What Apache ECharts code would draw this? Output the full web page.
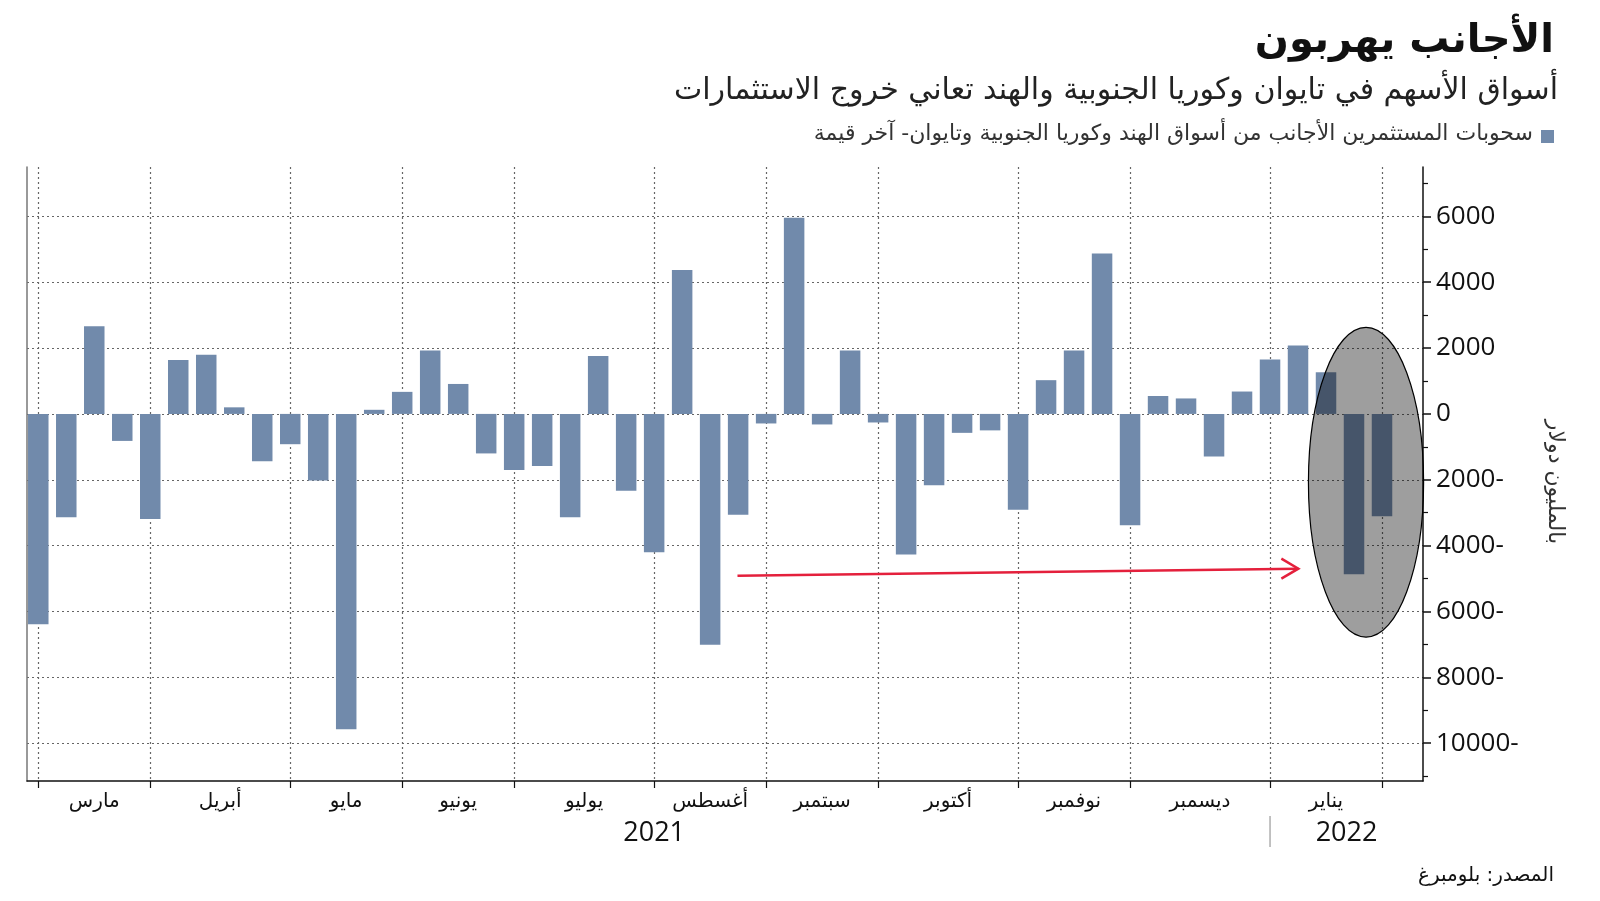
<!DOCTYPE html>
<html><head><meta charset="utf-8">
<script src="https://cdn.jsdelivr.net/npm/echarts@6/dist/echarts.min.js"></script>
<style>html,body{margin:0;padding:0;background:#fff}#c{width:1600px;height:901px}</style>
</head><body><div id="c"></div>
<script>
// ---- data ----
const weeks = [
  '2021-03-05','2021-03-12','2021-03-19','2021-03-26',
  '2021-04-02','2021-04-09','2021-04-16','2021-04-23','2021-04-30',
  '2021-05-07','2021-05-14','2021-05-21','2021-05-28',
  '2021-06-04','2021-06-11','2021-06-18','2021-06-25',
  '2021-07-02','2021-07-09','2021-07-16','2021-07-23','2021-07-30',
  '2021-08-06','2021-08-13','2021-08-20','2021-08-27',
  '2021-09-03','2021-09-10','2021-09-17','2021-09-24',
  '2021-10-01','2021-10-08','2021-10-15','2021-10-22','2021-10-29',
  '2021-11-05','2021-11-12','2021-11-19','2021-11-26',
  '2021-12-03','2021-12-10','2021-12-17','2021-12-24','2021-12-31',
  '2022-01-07','2022-01-14','2022-01-21','2022-01-28',
  '2022-02-04'
];
const outflows = [
  -6390, -3140, 2660, -820,
  -3190, 1640, 1800, 200, -1440,
  -920, -2020, -9580, 125,
  670, 1925, 910, -1200,
  -1700, -1580, -3140, 1760, -2330,
  -4200, 4370, -7010, -3060,
  -290, 5960, -320, 1925,
  -260, -4270, -2165, -575, -500,
  -2910, 1025, 1925, 4875,
  -3380, 545, 470, -1295, 680,
  1650, 2075, 1265, -4870,
  -3110
];
const monthTicks = ['2021-03-05','2021-04-02','2021-05-07','2021-06-04','2021-07-02','2021-08-06','2021-09-03','2021-10-01','2021-11-05','2021-12-03','2022-01-07','2022-02-04'];
const monthNames = ['مارس','أبريل','مايو','يونيو','يوليو','أغسطس','سبتمبر','أكتوبر','نوفمبر','ديسمبر','يناير'];
const yearLabels = ['2021','2022'];
const yearStart = '2022-01-07';
const yTicks = [-10000,-8000,-6000,-4000,-2000,0,2000,4000,6000];
const yMinorTicks = [-11000,-9000,-7000,-5000,-3000,-1000,1000,3000,5000,7000];
const xRange = ['2021-03-02 04:20','2022-02-14 06:00'];
const yRange = [-11150, 7500];
// annotation (data space)
const ellipseCenter = ['2022-01-31', -2075];
const ellipseHalfDays = 14.4, ellipseHalfValue = 4705;
const arrowFrom = ['2021-08-26 20:00', -4915];
const arrowTo = ['2022-01-14 02:00', -4700];

const texts = {
  title: 'الأجانب يهربون',
  subtitle: 'أسواق الأسهم في تايوان وكوريا الجنوبية والهند تعاني خروج الاستثمارات',
  legend: 'سحوبات المستثمرين الأجانب من أسواق الهند وكوريا الجنوبية وتايوان- آخر قيمة',
  yName: 'بالمليون دولار',
  source: 'المصدر: بلومبرغ'
};

// ---- helpers ----
const ts = s => { const p = s.split(' '); return Date.parse(p[0] + 'T' + (p[1] || '00:00') + ':00Z'); };
const DAY = 86400000;
const tickTs = monthTicks.map(ts);
const labelTs = monthNames.map((n, i) => (tickTs[i] + tickTs[i + 1]) / 2);
const labelMap = {};
labelTs.forEach((t, i) => { labelMap[t] = monthNames[i]; });

const AR = '"DejaVu Sans", sans-serif';
const NUM = '"Open Sans", sans-serif';
const BAR = '#718aab';
const gridDash = { color: '#666', width: 1.2, type: [2, 3] };

const chart = echarts.init(document.getElementById('c'), null, { renderer: 'canvas' });
chart.setOption({
  animation: false,
  backgroundColor: '#fff',
  grid: { left: 27, right: 177, top: 167, bottom: 120, containLabel: false },
  xAxis: {
    type: 'value',
    min: ts(xRange[0]), max: ts(xRange[1]),
    axisLine: { show: true, onZero: false, lineStyle: { color: '#111', width: 1.5 } },
    axisTick: { show: true, customValues: tickTs, length: 7, lineStyle: { color: '#111', width: 1.2 } },
    axisLabel: {
      show: true, customValues: labelTs, margin: 11,
      formatter: v => labelMap[v] || '',
      fontFamily: AR, fontSize: 20, color: '#111'
    },
    splitLine: { show: true, lineStyle: gridDash }
  },
  yAxis: [
    {
      type: 'value', position: 'right', min: yRange[0], max: yRange[1],
      axisLine: { show: true, onZero: false, lineStyle: { color: '#111', width: 1.5 } },
      axisTick: { show: true, customValues: yTicks, length: 8, lineStyle: { color: '#111', width: 1.5 } },
      axisLabel: {
        customValues: yTicks, margin: 13,
        formatter: v => v < 0 ? (-v) + '-' : String(v),
        fontFamily: NUM, fontSize: 26, color: '#111'
      },
      splitLine: { show: true, lineStyle: gridDash }
    },
    {
      type: 'value', position: 'right', min: yRange[0], max: yRange[1],
      axisLine: { show: false, onZero: false },
      axisTick: { show: true, customValues: yMinorTicks, length: 5, lineStyle: { color: '#111', width: 1.2 } },
      axisLabel: { show: false },
      splitLine: { show: false }
    },
    {
      type: 'value', position: 'left', min: yRange[0], max: yRange[1],
      axisLine: { show: true, onZero: false, lineStyle: { color: '#777', width: 1.5 } },
      axisTick: { show: false }, axisLabel: { show: false }, splitLine: { show: false }
    }
  ],
  series: [{
    type: 'bar',
    yAxisIndex: 0,
    barWidth: 20.5,
    itemStyle: { color: BAR },
    data: weeks.map((d, i) => [ts(d), outflows[i]])
  }]
});

// annotations & texts
const px = (d, v) => chart.convertToPixel({ xAxisIndex: 0, yAxisIndex: 0 }, [typeof d === 'string' ? ts(d) : d, v]);
const ec = px(ellipseCenter[0], ellipseCenter[1]);
const eR = px(ts(ellipseCenter[0]) + ellipseHalfDays * DAY, ellipseCenter[1]);
const eT = px(ellipseCenter[0], ellipseCenter[1] + ellipseHalfValue);
const a0 = px(arrowFrom[0], arrowFrom[1]);
const a1 = px(arrowTo[0], arrowTo[1]);
const sepX = px(yearStart, 0)[0];
const firstX = px(monthTicks[0], 0)[0];
const rightX = px(ts(xRange[1]), 0)[0];

chart.setOption({
  graphic: [
    { type: 'text', right: 46, top: 22, style: { text: texts.title, font: 'bold 40px ' + AR, fill: '#111' } },
    { type: 'text', right: 42, top: 76, style: { text: texts.subtitle, font: '30px ' + AR, fill: '#222' } },
    { type: 'rect', shape: { x: 1541, y: 130, width: 13, height: 13 }, style: { fill: BAR } },
    { type: 'text', right: 67, top: 123, style: { text: texts.legend, font: '22px ' + AR, fill: '#333' } },
    { type: 'text', x: 1555, y: 482, rotation: -Math.PI / 2, style: { text: texts.yName, font: '22px ' + AR, fill: '#333', textAlign: 'center', textVerticalAlign: 'middle' } },
    { type: 'text', x: (firstX + sepX) / 2, y: 833, style: { text: yearLabels[0], font: '27px ' + NUM, fill: '#111', textAlign: 'center', textVerticalAlign: 'middle' } },
    { type: 'text', x: (sepX + rightX) / 2, y: 833, style: { text: yearLabels[1], font: '27px ' + NUM, fill: '#111', textAlign: 'center', textVerticalAlign: 'middle' } },
    { type: 'line', shape: { x1: sepX, y1: 816, x2: sepX, y2: 847 }, style: { stroke: '#999', lineWidth: 1.2 } },
    { type: 'text', right: 46, top: 866, style: { text: texts.source, font: '20px ' + AR, fill: '#111' } },
    { type: 'ellipse', z: 100, shape: { cx: ec[0], cy: ec[1], rx: Math.abs(eR[0] - ec[0]), ry: Math.abs(ec[1] - eT[1]) },
      style: { fill: 'rgba(0,0,0,0.38)', stroke: '#000', lineWidth: 1.2 } },
    { type: 'line', z: 100, shape: { x1: a0[0], y1: a0[1], x2: a1[0], y2: a1[1] }, style: { stroke: '#e4203c', lineWidth: 2.5 } },
    { type: 'polyline', z: 100, shape: { points: [[a1[0] - 17, a1[1] - 10], [a1[0], a1[1]], [a1[0] - 17, a1[1] + 10]] },
      style: { stroke: '#e4203c', lineWidth: 2.5, fill: null } }
  ]
});
</script>
</body></html>
